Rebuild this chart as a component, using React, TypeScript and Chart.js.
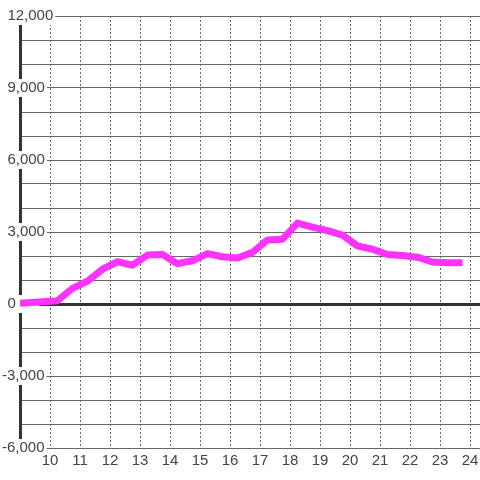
import React, { useEffect, useRef } from 'react';
import { Chart, registerables } from 'chart.js';

Chart.register(...registerables);

// Time of each reading (hh:mm)
const timeLabels = [
  '9:00', '10:15', '10:45', '11:15', '11:45', '12:15', '12:45', '13:15', '13:45',
  '14:15', '14:45', '15:15', '15:45', '16:15', '16:45', '17:15', '17:45', '18:15',
  '18:45', '19:15', '19:45', '20:15', '20:45', '21:15', '21:45', '22:15', '22:45',
  '23:15', '23:45',
];

// Series values
const seriesValues = [
  30, 140, 650, 950, 1450, 1760, 1620, 2040, 2060,
  1680, 1800, 2100, 1970, 1920, 2150, 2670, 2700, 3370,
  3200, 3060, 2870, 2420, 2280, 2060, 2020, 1950, 1750,
  1720, 1720,
];

// Axis ticks
const xTickHours = [10, 11, 12, 13, 14, 15, 16, 17, 18, 19, 20, 21, 22, 23, 24];
const yMin = -6000;
const yMax = 12000;
const yGridStep = 1000;
const yLabelStep = 3000;

const toHour = (t: string) => {
  const [h, m] = t.split(':').map(Number);
  return h + m / 60;
};

const FONT = { family: '"Liberation Sans", Arial, sans-serif', size: 15 };

const formatY = (v: number) => {
  if (v % yLabelStep !== 0) return '';
  const s = v.toLocaleString('en-US');
  if (v < 0) return s;
  // keep digits aligned with the negative labels (minus sign hangs left)
  return ' \u200A' + s + (v === 0 ? '     ' : '');
};

export default function App() {
  const ref = useRef<HTMLCanvasElement>(null);

  useEffect(() => {
    document.body.style.margin = '0';
    const chart = new Chart(ref.current!, {
      type: 'line',
      data: {
        datasets: [
          {
            data: timeLabels.map((t, i) => ({ x: toHour(t), y: seriesValues[i] })),
            borderColor: '#ff33ff',
            borderWidth: 7,
            pointRadius: 0,
            tension: 0,
            fill: false,
            borderJoinStyle: 'round',
          },
        ],
      },
      options: {
        animation: false,
        responsive: false,
        layout: { padding: { top: 16, left: 0, right: 0, bottom: 0 } },
        plugins: { legend: { display: false }, tooltip: { enabled: false } },
        scales: {
          x: {
            type: 'linear',
            min: 9,
            max: 24 + 1 / 3,
            afterBuildTicks: (s: any) => {
              s.ticks = xTickHours.map((v) => ({ value: v }));
            },
            afterFit: (s: any) => {
              s.height = 32;
              s.paddingLeft = 0;
              s.paddingRight = 0;
            },
            ticks: {
              autoSkip: false,
              maxRotation: 0,
              padding: 4,
              z: 1,
              color: '#444',
              font: FONT,
              callback: (v: any) => String(v),
            },
            grid: { color: '#666', lineWidth: 1, drawTicks: false },
            border: { display: false, dash: [2, 2] },
          },
          y: {
            type: 'linear',
            min: yMin,
            max: yMax,
            afterFit: (s: any) => {
              s.width = 20;
            },
            ticks: {
              stepSize: yGridStep,
              maxTicksLimit: 100,
              autoSkip: false,
              mirror: true,
              padding: -18,
              crossAlign: 'near',
              color: '#444',
              font: FONT,
              callback: (v: any) => formatY(Number(v)),
              showLabelBackdrop: (ctx: any) => !!ctx.tick && ctx.tick.value % yLabelStep === 0,
              backdropColor: '#ffffff',
              backdropPadding: { top: 0, bottom: 0, left: 1, right: 2 },
            } as any,
            grid: {
              drawTicks: false,
              color: (ctx: any) => (ctx.tick && ctx.tick.value === 0 ? '#333' : '#666'),
              lineWidth: (ctx: any) => (ctx.tick && ctx.tick.value === 0 ? 3 : 1),
            },
            border: { display: true, color: '#333', width: 3 },
          },
        },
      } as any,
    });
    return () => chart.destroy();
  }, []);

  return (
    <div style={{ width: 480, height: 480 }}>
      <canvas ref={ref} width={480} height={480} style={{ display: 'block' }} />
    </div>
  );
}
